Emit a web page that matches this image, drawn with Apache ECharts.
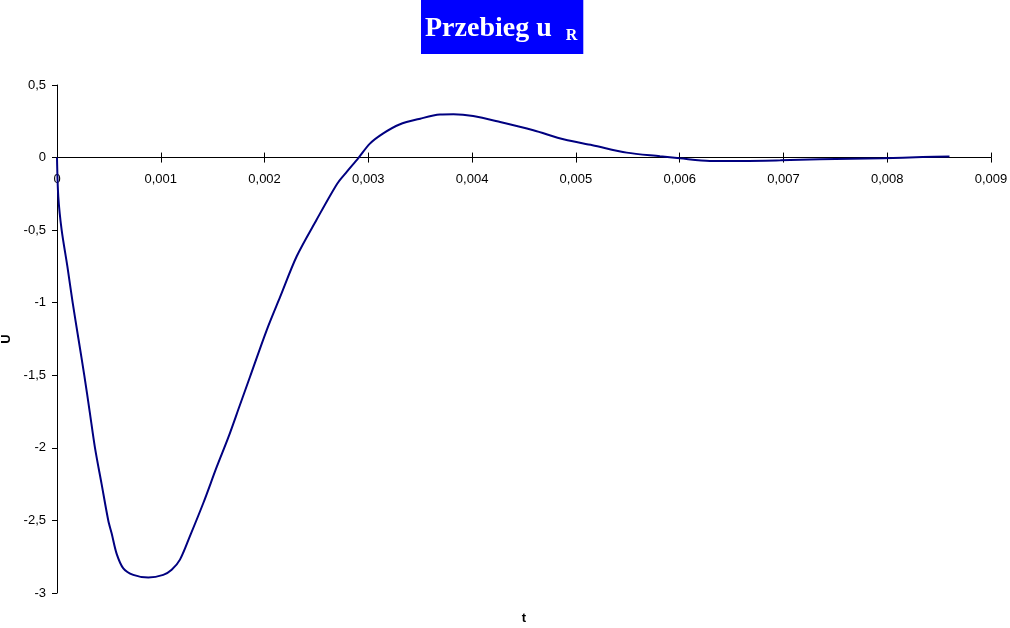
<!DOCTYPE html>
<html>
<head>
<meta charset="utf-8">
<script src="https://cdn.jsdelivr.net/npm/echarts@6/dist/echarts.min.js"></script>
<style>html,body{margin:0;padding:0;background:#fff}#c{width:1010px;height:628px}</style>
</head>
<body>
<div id="c"></div>
<script>
// time values (s)
var tValues = [0, 0.0000125, 0.000045, 0.0001, 0.000151, 0.000207, 0.000263, 0.000315, 0.000366, 0.00043, 0.000494, 0.000527, 0.000575, 0.000639, 0.000735, 0.00088, 0.001024, 0.001105, 0.001185, 0.00128, 0.00141, 0.00154, 0.00165, 0.00176, 0.00186, 0.00202, 0.00215, 0.00231, 0.0025, 0.0027, 0.00279, 0.0029, 0.003015, 0.00314, 0.0033, 0.0035, 0.00369, 0.00382, 0.00401, 0.00427, 0.00459, 0.00489, 0.00516, 0.00549, 0.00581, 0.0060, 0.00629, 0.00661, 0.00697, 0.00735, 0.00796, 0.00834, 0.0086];
// voltage u_R values
var uValues = [0, -0.27, -0.50, -0.75, -1.0, -1.25, -1.5, -1.75, -2.0, -2.25, -2.5, -2.59, -2.73, -2.83, -2.875, -2.893, -2.875, -2.84, -2.77, -2.61, -2.38, -2.13, -1.93, -1.71, -1.51, -1.19, -0.96, -0.68, -0.43, -0.18, -0.10, -0.007, 0.096, 0.165, 0.228, 0.268, 0.296, 0.298, 0.286, 0.245, 0.188, 0.124, 0.085, 0.034, 0.009, -0.005, -0.023, -0.023, -0.019, -0.012, -0.005, 0.004, 0.007];
var xTicks = {min: 0, max: 0.009, interval: 0.001};
var yTicks = {min: -3, max: 0.5, interval: 0.5};
var titleMain = 'Przebieg u';
var titleSub = 'R';
var xName = 't';
var yName = 'U';

function fmt(v) {
  if (v === 0) return '0';
  var s = String(Math.round(v * 1e6) / 1e6);
  return s.replace('.', ',');
}

var data = tValues.map(function (t, i) { return [t, uValues[i]]; });
var labelFont = {color: '#000', fontSize: 13, fontFamily: 'Liberation Sans, Arial, sans-serif'};
var serif = 'Liberation Serif, Times New Roman, serif';

var gridTop = 85, gridBottom = 35, chartH = 628;
var plotH = chartH - gridTop - gridBottom;
// distance of value 0 above the grid bottom, from the y scale
var zeroOffset = -plotH * (0 - yTicks.min) / (yTicks.max - yTicks.min);

var chart = echarts.init(document.getElementById('c'), null, {renderer: 'canvas'});
chart.setOption({
  animation: false,
  backgroundColor: '#fff',
  title: [{
    text: '{a|' + titleMain + '}{b|' + titleSub + '}',
    left: 421, top: -6,
    backgroundColor: '#0000FF',
    padding: [15, 6, 10, 4],
    textStyle: {
      rich: {
        a: {color: '#fff', fontSize: 28, fontWeight: 'bold', fontFamily: serif, lineHeight: 34, verticalAlign: 'bottom'},
        b: {color: '#fff', fontSize: 16, fontWeight: 'bold', fontFamily: serif, lineHeight: 34, verticalAlign: 'bottom', padding: [0, 0, -1, 14]}
      }
    }
  }, {
    text: xName, left: 524, top: 618, textAlign: 'center', textVerticalAlign: 'middle', padding: 0,
    textStyle: {color: '#000', fontSize: 13, fontWeight: 'bold', fontFamily: 'Liberation Sans, Arial, sans-serif'}
  }],
  grid: {left: 57, right: 19, top: gridTop, bottom: gridBottom, containLabel: false, outerBoundsMode: 'none'},
  xAxis: [
    {
      type: 'value', min: xTicks.min, max: xTicks.max, interval: xTicks.interval,
      position: 'bottom', offset: zeroOffset,
      axisLine: {show: true, onZero: false, lineStyle: {color: '#000', width: 1}},
      axisTick: {show: true, inside: false, length: 5, lineStyle: {color: '#000'}},
      axisLabel: Object.assign({formatter: fmt, margin: 15}, labelFont),
      splitLine: {show: false}
    },
    {
      type: 'value', min: xTicks.min, max: xTicks.max, interval: xTicks.interval,
      position: 'bottom', offset: zeroOffset,
      axisLine: {show: false, onZero: false},
      axisTick: {show: true, inside: true, length: 5, lineStyle: {color: '#000'}},
      axisLabel: {show: false},
      splitLine: {show: false}
    }
  ],
  yAxis: {
    type: 'value', min: yTicks.min, max: yTicks.max, interval: yTicks.interval,
    axisLine: {show: true, onZero: false, lineStyle: {color: '#000', width: 1}},
    axisTick: {show: true, inside: false, length: 5, lineStyle: {color: '#000'}},
    axisLabel: Object.assign({formatter: fmt, margin: 11}, labelFont),
    splitLine: {show: false},
    name: yName, nameLocation: 'middle', nameGap: 44, nameRotate: 90,
    nameTextStyle: {color: '#000', fontSize: 13, fontWeight: 'bold', fontFamily: 'Liberation Sans, Arial, sans-serif'}
  },
  series: [{
    type: 'line', xAxisIndex: 0, data: data, showSymbol: false, smooth: 0.3,
    lineStyle: {color: '#000080', width: 2}
  }]
});
</script>
</body>
</html>
